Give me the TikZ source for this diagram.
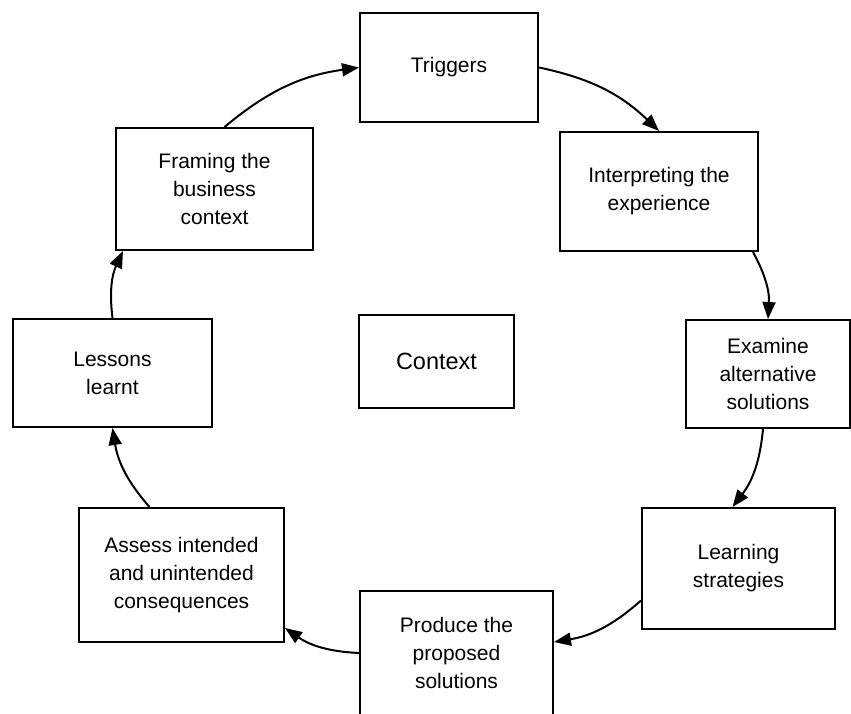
\documentclass[tikz,border=0pt]{standalone}
\usepackage{fontspec}
\setmainfont{Liberation Sans}
\usetikzlibrary{arrows.meta}

\begin{document}
\begin{tikzpicture}[x=1pt,y=-1pt,
	stage/.style={draw,line width=2pt,align=center,inner sep=0pt,font=\fontsize{21}{28}\selectfont},
	flow/.style={-{Triangle[length=17pt,width=13pt]},line width=2pt,bend left=16}]
	\useasboundingbox (0,0) rectangle (851,713);
	\node[stage,minimum width=178pt,minimum height=109pt] (trig) at (449,67.5) {Triggers};
	\node[stage,minimum width=198pt,minimum height=119pt] (interp) at (659,191.5) {Interpreting the\\experience};
	\node[stage,minimum width=164pt,minimum height=108pt] (exam) at (768,374) {Examine\\alternative\\solutions};
	\node[stage,minimum width=193pt,minimum height=121pt] (learn) at (738.5,568.5) {Learning\\strategies};
	\node[stage,minimum width=193pt,minimum height=124pt] (prod) at (456.5,653) {Produce the\\proposed\\solutions};
	\node[stage,minimum width=205pt,minimum height=134pt] (assess) at (181.5,575) {Assess intended\\and unintended\\consequences};
	\node[stage,minimum width=199pt,minimum height=108pt] (lessons) at (112.5,373) {Lessons\\learnt};
	\node[stage,minimum width=197pt,minimum height=122pt] (frame) at (214.5,189) {Framing the\\business\\context};
	\node[stage,minimum width=155pt,minimum height=93pt,font=\fontsize{23.5}{28}\selectfont] (ctx) at (436.5,361.5) {Context};
	\path[flow]
	([xshift=10pt]frame.north) edge (trig.west)
	(trig.east) edge (interp.north)
	([xshift=-6pt]interp.south east) edge (exam.north)
	([xshift=-5pt]exam.south) edge ([xshift=-6pt]learn.north)
	([yshift=-32pt]learn.west) edge ([yshift=11pt]prod.east)
	(prod.west) edge ([yshift=15pt]assess.south east)
	([xshift=-32pt]assess.north) edge (lessons.south)
	(lessons.north) edge ([xshift=8pt]frame.south west);
\end{tikzpicture}
\end{document}
